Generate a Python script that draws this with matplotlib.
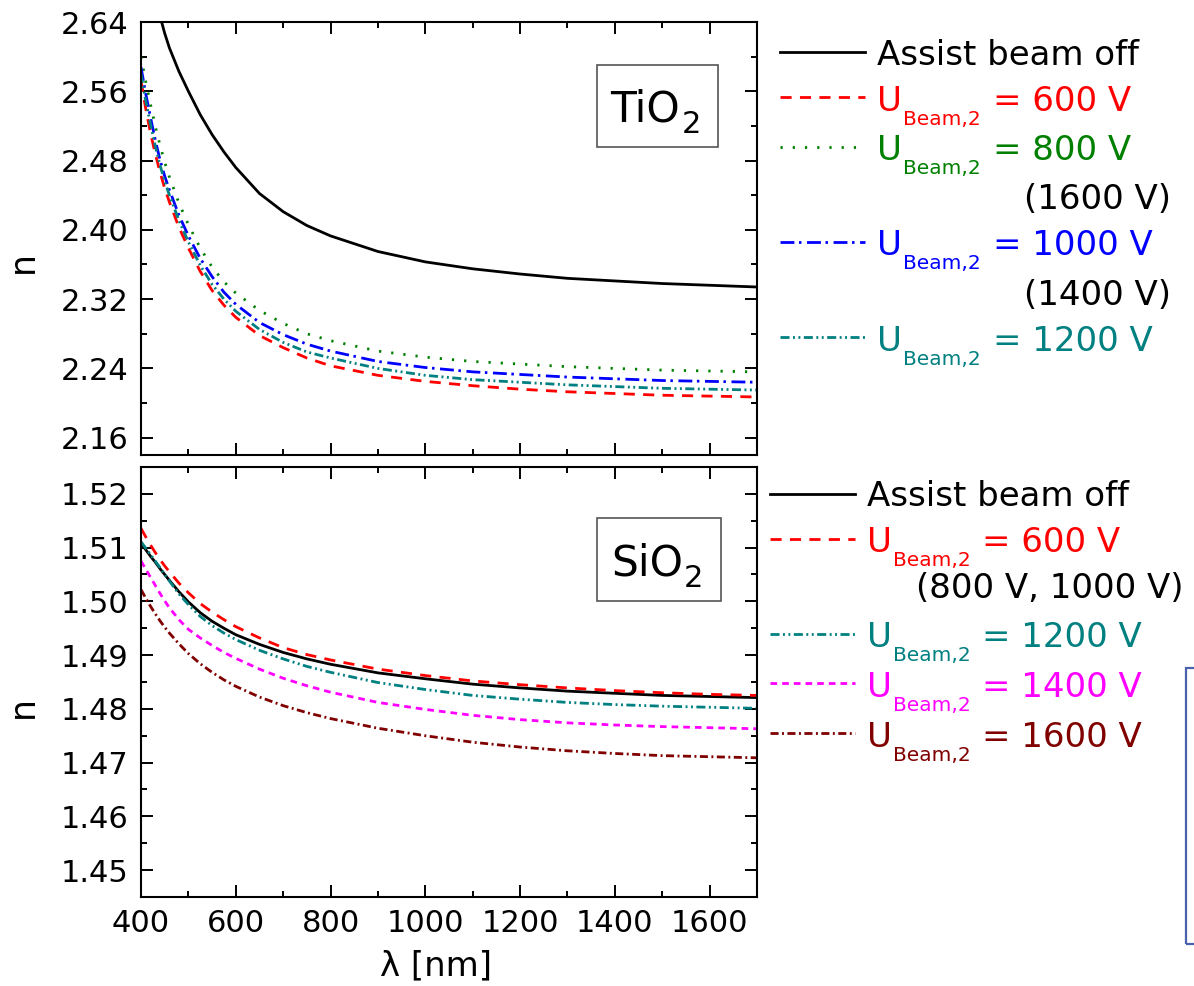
import numpy as np
import matplotlib
matplotlib.use("Agg")
import matplotlib.pyplot as plt
from matplotlib.lines import Line2D
from matplotlib.patches import Rectangle
from matplotlib.ticker import MultipleLocator, FormatStrFormatter

plt.rcParams['font.family'] = ['DejaVu Sans']
plt.rcParams['mathtext.fontset'] = 'dejavusans'
plt.rcParams['lines.scale_dashes'] = False

W, H = 1194, 986

# refractive index vs wavelength (nm)
wavelength = [400, 410, 420, 430, 440, 450, 460, 480, 500, 525, 550, 575, 600, 650,
              700, 750, 800, 900, 1000, 1100, 1200, 1300, 1400, 1500, 1600, 1700]

# TiO2 layers
tio2_off = [2.751, 2.722, 2.695, 2.670, 2.647, 2.627, 2.610, 2.583, 2.560, 2.533, 2.510, 2.490, 2.472, 2.442,
            2.421, 2.405, 2.393, 2.375, 2.363, 2.355, 2.349, 2.344, 2.341, 2.338, 2.336, 2.334]
tio2_600 = [2.572, 2.540, 2.512, 2.488, 2.467, 2.448, 2.432, 2.403, 2.379, 2.352, 2.330, 2.313, 2.299, 2.278,
            2.264, 2.252, 2.243, 2.232, 2.225, 2.220, 2.216, 2.213, 2.211, 2.209, 2.208, 2.207]
tio2_800 = [2.600, 2.571, 2.545, 2.520, 2.498, 2.478, 2.461, 2.431, 2.406, 2.379, 2.357, 2.340, 2.327, 2.307,
            2.292, 2.280, 2.272, 2.260, 2.253, 2.248, 2.245, 2.242, 2.240, 2.238, 2.237, 2.236]
tio2_1000 = [2.588, 2.557, 2.530, 2.504, 2.481, 2.462, 2.446, 2.417, 2.393, 2.367, 2.346, 2.328, 2.314, 2.293,
             2.279, 2.268, 2.260, 2.248, 2.241, 2.236, 2.233, 2.230, 2.228, 2.226, 2.225, 2.224]
tio2_1200 = [2.580, 2.549, 2.522, 2.497, 2.475, 2.456, 2.440, 2.411, 2.386, 2.359, 2.337, 2.320, 2.306, 2.285,
             2.270, 2.259, 2.252, 2.240, 2.232, 2.227, 2.224, 2.221, 2.219, 2.217, 2.216, 2.215]

# SiO2 layers
sio2_off = [1.5108, 1.5096, 1.5084, 1.5073, 1.5061, 1.5050, 1.5039, 1.5018, 1.4999, 1.4979, 1.4963, 1.4950,
            1.4938, 1.4920, 1.4905, 1.4893, 1.4883, 1.4867, 1.4856, 1.4846, 1.4839, 1.4833, 1.4829, 1.4825,
            1.4823, 1.4821]
sio2_600 = [1.5136, 1.5120, 1.5105, 1.5091, 1.5078, 1.5066, 1.5055, 1.5034, 1.5016, 1.4996, 1.4980, 1.4966,
            1.4953, 1.4932, 1.4914, 1.4901, 1.4891, 1.4874, 1.4862, 1.4852, 1.4845, 1.4839, 1.4834, 1.4830,
            1.4827, 1.4825]
sio2_1200 = [1.5111, 1.5099, 1.5087, 1.5075, 1.5063, 1.5050, 1.5038, 1.5014, 1.4994, 1.4972, 1.4955, 1.4941,
             1.4929, 1.4909, 1.4893, 1.4879, 1.4868, 1.4849, 1.4836, 1.4825, 1.4818, 1.4812, 1.4808, 1.4805,
             1.4803, 1.4801]
sio2_1400 = [1.5075, 1.5060, 1.5045, 1.5030, 1.5015, 1.5001, 1.4988, 1.4966, 1.4948, 1.4932, 1.4918, 1.4905,
             1.4894, 1.4874, 1.4857, 1.4843, 1.4831, 1.4812, 1.4799, 1.4788, 1.4780, 1.4774, 1.4770, 1.4767,
             1.4765, 1.4763]
sio2_1600 = [1.5022, 1.5006, 1.4991, 1.4977, 1.4964, 1.4952, 1.4941, 1.4921, 1.4903, 1.4884, 1.4868, 1.4854,
             1.4842, 1.4822, 1.4806, 1.4793, 1.4782, 1.4764, 1.4750, 1.4738, 1.4729, 1.4722, 1.4717, 1.4713,
             1.4711, 1.4709]

tio2_series = [('off', tio2_off), ('600', tio2_600), ('800', tio2_800),
               ('1000', tio2_1000), ('1200', tio2_1200)]
sio2_series = [('off', sio2_off), ('600', sio2_600), ('1200', sio2_1200),
               ('1400', sio2_1400), ('1600', sio2_1600)]

STYLE = {
    'off':  dict(color='black', linestyle='-'),
    '600':  dict(color='#ff0000', dashes=(8, 6)),
    '800':  dict(color='#008000', dashes=(1.6, 7.2)),
    '1000': dict(color='#0000ff', dashes=(10, 3.3, 1.8, 4)),
    '1200': dict(color='#008080', dashes=(6.5, 2.5, 1.4, 2.5, 1.4, 2.5)),
    '1400': dict(color='#ff00ff', dashes=(4.8, 3.6)),
    '1600': dict(color='#800000', dashes=(5.8, 2.5, 1.4, 2.5)),
}
LW = 2.0
LEG_FS = 24.5

fig = plt.figure(figsize=(W / 100, H / 100), dpi=100)


def fx(x):
    return x / W


def fy(y):
    return 1 - y / H


def make_axes(top, bottom):
    ax = fig.add_axes([fx(141), fy(bottom), fx(757) - fx(141), (bottom - top) / H])
    ax.tick_params(which='both', direction='in', top=True, right=True,
                   width=1.4, labelsize=22, pad=9)
    ax.tick_params(which='major', length=8.5)
    ax.tick_params(which='minor', length=4.3)
    for s in ax.spines.values():
        s.set_linewidth(1.5)
    ax.set_xlim(400, 1700)
    ax.xaxis.set_major_locator(MultipleLocator(200))
    ax.xaxis.set_minor_locator(MultipleLocator(100))
    return ax


ax1 = make_axes(22, 455)
for key, vals in tio2_series:
    ax1.plot(wavelength, vals, lw=LW, **STYLE[key])
ax1.set_ylim(2.14, 2.64)
ax1.yaxis.set_major_locator(MultipleLocator(0.08))
ax1.yaxis.set_minor_locator(MultipleLocator(0.04))
ax1.yaxis.set_major_formatter(FormatStrFormatter('%.2f'))
ax1.tick_params(labelbottom=False)

ax2 = make_axes(467, 897)
for key, vals in sio2_series:
    ax2.plot(wavelength, vals, lw=LW, **STYLE[key])
ax2.set_ylim(1.445, 1.525)
ax2.yaxis.set_major_locator(MultipleLocator(0.01))
ax2.yaxis.set_minor_locator(MultipleLocator(0.005))
ax2.yaxis.set_major_formatter(FormatStrFormatter('%.2f'))

# axis labels
fig.text(fx(23), fy(262), 'n', rotation=90, fontsize=25, ha='center', va='center')
fig.text(fx(23), fy(707), 'n', rotation=90, fontsize=25, ha='center', va='center')
fig.text(fx(436), fy(966), 'λ [nm]', fontsize=24.5, ha='center', va='center')


# material tags
def material_box(x0, y0, x1, y1, name, tx, base, sub_x, sub_base):
    fig.add_artist(Rectangle((fx(x0), fy(y1)), (x1 - x0) / W, (y1 - y0) / H,
                             fill=False, ec='#555555', lw=1.2))
    fig.text(fx(tx), fy(base), name, fontsize=30.5, va='baseline')
    fig.text(fx(sub_x), fy(sub_base), '2', fontsize=22, va='baseline')


material_box(597, 65, 718, 147, 'TiO', 610, 122, 682, 133)
material_box(597, 518, 721, 601, 'SiO', 611, 576, 684, 587)


# legends
def legend_entry(key, x0, x1, y_line, tx, base, sub_x, eq_x, volts):
    fig.add_artist(Line2D([fx(x0), fx(x1)], [fy(y_line)] * 2, lw=LW, **STYLE[key]))
    color = STYLE[key]['color']
    if volts is None:
        fig.text(fx(tx), fy(base), 'Assist beam off', fontsize=LEG_FS, va='baseline', color=color)
        return
    fig.text(fx(tx), fy(base), 'U', fontsize=LEG_FS, va='baseline', color=color)
    fig.text(fx(sub_x), fy(base + 14), 'Beam,2', fontsize=14.5, va='baseline', color=color)
    fig.text(fx(eq_x), fy(base), '= %s V' % volts, fontsize=LEG_FS, va='baseline', color=color)


top_legend = [('off', 52, 65, None), ('600', 97, 111, '600'), ('800', 147, 160, '800'),
              ('1000', 242, 255, '1000'), ('1200', 337, 351, '1200')]
for key, yl, yb, volts in top_legend:
    legend_entry(key, 780, 865, yl, 877, yb, 903, 993, volts)
fig.text(fx(1024), fy(209), '(1600 V)', fontsize=LEG_FS, va='baseline')
fig.text(fx(1024), fy(305), '(1400 V)', fontsize=LEG_FS, va='baseline')

bottom_legend = [('off', 494, 506, None), ('600', 539, 552, '600'), ('1200', 634, 647, '1200'),
                 ('1400', 683, 697, '1400'), ('1600', 733, 747, '1600')]
for key, yl, yb, volts in bottom_legend:
    legend_entry(key, 770, 855, yl, 867, yb, 893, 982, volts)
fig.text(fx(916), fy(598), '(800 V, 1000 V)', fontsize=LEG_FS, va='baseline')

# frame partly cut off at the right edge
fig.add_artist(Rectangle((fx(1186), fy(944)), 40 / W, (944 - 668) / H,
                         fill=False, ec='#4a62ad', lw=1.6))

fig.savefig('out.png', dpi=100)
